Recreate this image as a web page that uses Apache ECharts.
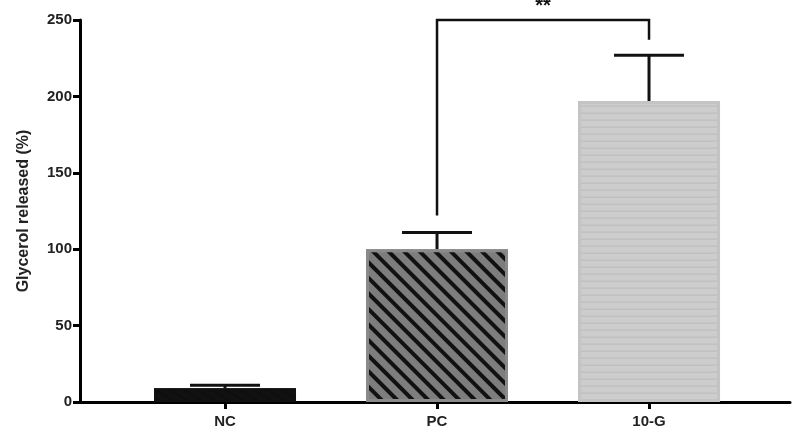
<!DOCTYPE html>
<html><head><meta charset="utf-8">
<script src="https://cdn.jsdelivr.net/npm/echarts@6/dist/echarts.min.js"></script>
<style>html,body{margin:0;padding:0;background:#fff}#c{width:800px;height:440px}</style>
</head><body><div id="c"></div>
<script>
const categories = ['NC', 'PC', '10-G'];
const means = [9, 100, 197];
const errors = [11, 111, 227];
const yTicks = [0, 50, 100, 150, 200, 250];
const sigPair = [1, 2];
const sigLabel = '**';
const sigLevel = 250;
const sigLegEnds = [122, 237];

const chart = echarts.init(document.getElementById('c'));
const pos = [1, 2, 3];
const styles = [
  {color: '#111', borderColor: '#111', borderWidth: 2},
  {color: '#7d7d7d', borderColor: '#8a8a8a', borderWidth: 3,
   decal: {symbol: 'rect', color: '#111', dashArrayX: [1, 0], dashArrayY: [4, 7], rotation: Math.PI / 4, symbolSize: 1}},
  {color: '#cdcdcd', borderColor: '#c4c4c4', borderWidth: 3,
   decal: {symbol: 'circle', color: '#666', dashArrayX: [[1, 0], [1, 0]], dashArrayY: [1.5, 5], symbolSize: 0.5}}
];
chart.setOption({
  animation: false,
  aria: {enabled: true, decal: {show: true}},
  grid: {left: 80, right: 10, top: 20, bottom: 38},
  xAxis: {type: 'value', min: 0.316, max: 3.665,
    axisLine: {lineStyle: {color: '#000', width: 3}},
    axisTick: {show: true, customValues: pos, length: 7, lineStyle: {color: '#000', width: 3}},
    axisLabel: {customValues: pos, formatter: v => categories[Math.round(v) - 1],
      color: '#222', fontWeight: 'bold', fontSize: 15, fontFamily: 'Arial, Liberation Sans', margin: 12},
    splitLine: {show: false}},
  yAxis: {type: 'value', min: 0, max: 250, interval: 50,
    name: 'Glycerol released (%)', nameLocation: 'middle', nameGap: 48,
    nameTextStyle: {color: '#222', fontWeight: 'bold', fontSize: 16, fontFamily: 'Arial, Liberation Sans'},
    axisLine: {show: true, lineStyle: {color: '#000', width: 3}},
    axisTick: {show: true, length: 7, lineStyle: {color: '#000', width: 3}},
    axisLabel: {color: '#222', fontWeight: 'bold', fontSize: 15, fontFamily: 'Arial, Liberation Sans', formatter: v => yTicks.includes(v) ? v : ''},
    splitLine: {show: false}},
  series: [
    {type: 'bar', barWidth: 142, z: 2,
     data: means.map((m, i) => ({value: [pos[i], m], itemStyle: styles[i]}))},
    {type: 'custom', z: 1,
     data: means.map((m, i) => [pos[i], m, errors[i]]),
     renderItem: (p, api) => {
       const x = api.coord([api.value(0), 0])[0];
       const y0 = api.coord([0, api.value(1)])[1];
       const y1 = api.coord([0, api.value(2)])[1];
       const st = {stroke: '#111', lineWidth: 3};
       return {type: 'group', children: [
         {type: 'line', shape: {x1: x, y1: y0, x2: x, y2: y1}, style: st},
         {type: 'line', shape: {x1: x - 35, y1: y1, x2: x + 35, y2: y1}, style: st}
       ]};
     }},
    {type: 'custom', z: 3,
     data: [[pos[sigPair[0]], pos[sigPair[1]], sigLevel, sigLegEnds[0], sigLegEnds[1]]],
     renderItem: (p, api) => {
       const a = api.coord([api.value(0), api.value(2)]);
       const b = api.coord([api.value(1), api.value(2)]);
       const ya = api.coord([0, api.value(3)])[1];
       const yb = api.coord([0, api.value(4)])[1];
       return {type: 'group', children: [
         {type: 'polyline', shape: {points: [[a[0], ya], a, b, [b[0], yb]]}, style: {stroke: '#111', lineWidth: 2.5, fill: null}},
         {type: 'text', style: {text: sigLabel, x: (a[0] + b[0]) / 2, y: a[1] - 4, align: 'center', verticalAlign: 'bottom',
           fontSize: 20, fontWeight: 'bold', fill: '#111', fontFamily: 'Arial, Liberation Sans'}}
       ]};
     }}
  ]
});
</script></body></html>
